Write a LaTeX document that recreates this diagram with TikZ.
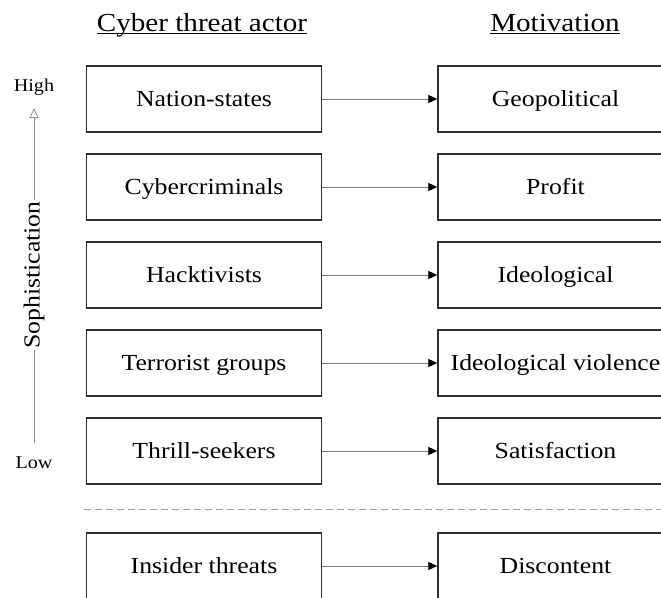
\documentclass[tikz,border=0pt]{standalone}
\usepackage{fontspec}
\setmainfont[FakeStretch=1.12]{Liberation Serif}
\usetikzlibrary{arrows.meta}
\definecolor{boxline}{HTML}{2E2E2E}
\definecolor{connline}{HTML}{7A7A7A}
\definecolor{axisline}{HTML}{8C8C8C}
\definecolor{sepline}{HTML}{A0A0A0}
\tikzset{
  stepbox/.style={draw=boxline, line width=1.4pt, minimum width=235pt,
    minimum height=66pt, inner sep=0pt, text height=17pt, text depth=3pt,
    font=\fontsize{23}{26}\selectfont},
  conn/.style={draw=connline, line width=0.8pt,
    -{Triangle[length=9pt,width=8pt,color=black]}},
  axisarrow/.style={draw=axisline, line width=0.8pt,
    -{Triangle[open,length=10pt,width=9pt]}},
  header/.style={inner sep=0pt, anchor=base, font=\fontsize{26}{30}\selectfont},
  scalelabel/.style={inner sep=0pt, font=\fontsize{18}{21}\selectfont},
}
\begin{document}
\begin{tikzpicture}[x=1pt,y=-1pt]
\useasboundingbox (0,0) rectangle (661,597);
\clip (0,0) rectangle (661,597);

% column headers
\node[header] (hdrA) at (202,31) {Cyber threat actor};
\node[header] (hdrM) at (555,31) {Motivation};
\draw[line width=0.8pt] ([yshift=-2.5pt]hdrA.base west) -- ([yshift=-2.5pt]hdrA.base east);
\draw[line width=0.8pt] ([yshift=-2.5pt]hdrM.base west) -- ([yshift=-2.5pt]hdrM.base east);

% actors and motivations
\foreach \i/\y/\act/\mot in {1/99/Nation-states/Geopolitical,
                             2/187/Cybercriminals/Profit,
                             3/275/Hacktivists/Ideological,
                             4/363/Terrorist groups/Ideological violence,
                             5/451/Thrill-seekers/Satisfaction,
                             6/566/Insider threats/Discontent}{
  \node[stepbox] (a\i) at (204,\y) {\act};
  \node[stepbox] (m\i) at (555.5,\y) {\mot};
  \draw[conn] (a\i.east) -- (m\i.west);
}

% separator between external and insider threats
\coordinate (sepL) at (84,509);
\coordinate (sepR) at (661,509);
\draw[sepline, line width=0.8pt, dash pattern=on 7pt off 4pt] (sepL) -- (sepR);

% sophistication scale
\coordinate (axbot) at (34,443);
\coordinate (axtop) at (34,108);
\draw[axisarrow] (axbot) -- (axtop);
\node[scalelabel] (high) at (34,87) {High};
\node[scalelabel] (low) at (34,463) {Low};
\node[fill=white, inner sep=1pt, rotate=90, font=\fontsize{23}{26}\selectfont] (soph) at (34,275) {Sophistication};
\end{tikzpicture}
\end{document}
